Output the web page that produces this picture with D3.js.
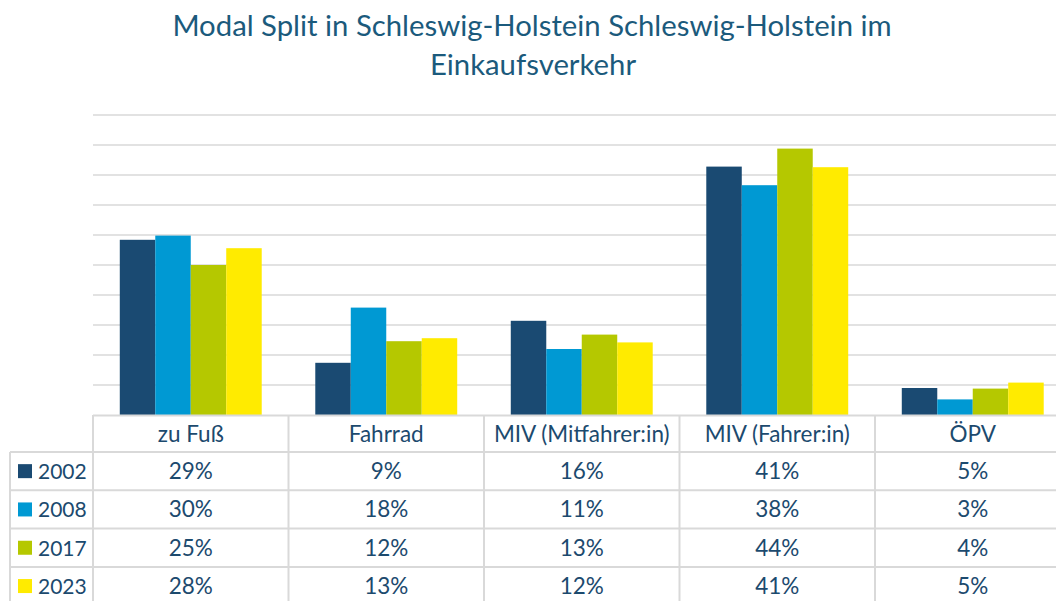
<!DOCTYPE html>
<html>
<head>
<meta charset="utf-8">
<script src="https://cdn.jsdelivr.net/npm/d3@7"></script>
<style>
  body { margin: 0; background: #fff; }
  svg { display: block; font-family: Lato, "Open Sans", sans-serif; }
</style>
</head>
<body>
<script>
// data
var categories = ["zu Fuß", "Fahrrad", "MIV (Mitfahrer:in)", "MIV (Fahrer:in)", "ÖPV"];
var years = ["2002", "2008", "2017", "2023"];
var values2002 = [29.2, 8.7, 15.7, 41.4, 4.5];
var values2008 = [29.9, 17.9, 11.0, 38.3, 2.6];
var values2017 = [25.0, 12.3, 13.4, 44.4, 4.4];
var values2023 = [27.8, 12.8, 12.1, 41.3, 5.4];
var yTicks = [5, 10, 15, 20, 25, 30, 35, 40, 45, 50];
var colors = ["#1a4a72", "#0099d3", "#b5c800", "#ffeb00"];

var series = [values2002, values2008, values2017, values2023];

var w = 1056;
var h = 601;
var left = 93;
var colW = 195.5;
var yBase = 415;
var headH = 37;
var rowH = 38.3;
var textColor = "#1c4a6e";
var gridColor = "#d9d9d9";
var fs = "22.5px";

var svg = d3.select("body").append("svg")
	.attr("width", w)
	.attr("height", h);

// title
svg.append("text")
	.attr("x", 532).attr("y", 36)
	.attr("text-anchor", "middle")
	.attr("font-size", "29.3px")
	.attr("fill", "#1b5a7c")
	.text("Modal Split in Schleswig-Holstein Schleswig-Holstein im");
svg.append("text")
	.attr("x", 533).attr("y", 75)
	.attr("text-anchor", "middle")
	.attr("font-size", "29.3px")
	.attr("fill", "#1b5a7c")
	.text("Einkaufsverkehr");

var x0 = d3.scaleBand()
	.domain(categories)
	.range([left, left + colW * categories.length])
	.paddingInner(0.274)
	.paddingOuter(0.137);

var x1 = d3.scaleBand()
	.domain(years)
	.range([0, x0.bandwidth()]);

var y = d3.scaleLinear()
	.domain([0, 50])
	.range([yBase, 115]);

// gridlines
svg.append("g")
	.selectAll("line")
	.data(yTicks)
	.enter()
	.append("line")
	.attr("x1", left).attr("x2", w)
	.attr("y1", function(d) { return y(d); })
	.attr("y2", function(d) { return y(d); })
	.attr("stroke", gridColor)
	.attr("stroke-width", 1.5);

// bars
var groups = svg.append("g")
	.selectAll("g")
	.data(series)
	.enter()
	.append("g")
	.attr("fill", function(d, i) { return colors[i]; });

groups.selectAll("rect")
	.data(function(d, i) {
		return d.map(function(v, j) { return { cat: categories[j], year: years[i], v: v }; });
	})
	.enter()
	.append("rect")
	.attr("x", function(d) { return x0(d.cat) + x1(d.year); })
	.attr("y", function(d) { return y(d.v); })
	.attr("width", x1.bandwidth())
	.attr("height", function(d) { return yBase - y(d.v); });

// data table
var table = svg.append("g");
var rowTops = years.map(function(d, i) { return yBase + headH + i * rowH; });

// horizontal lines
table.append("line")
	.attr("x1", left).attr("x2", w)
	.attr("y1", yBase + 0.5).attr("y2", yBase + 0.5)
	.attr("stroke", gridColor).attr("stroke-width", 2);
table.selectAll("line.row")
	.data(rowTops)
	.enter()
	.append("line")
	.attr("class", "row")
	.attr("x1", 10).attr("x2", w)
	.attr("y1", function(d) { return d; })
	.attr("y2", function(d) { return d; })
	.attr("stroke", gridColor).attr("stroke-width", 2);

// vertical lines
var vx = categories.map(function(c, i) { return left + i * colW; });
table.selectAll("line.col")
	.data(vx)
	.enter()
	.append("line")
	.attr("class", "col")
	.attr("x1", function(d) { return d; })
	.attr("x2", function(d) { return d; })
	.attr("y1", yBase).attr("y2", h)
	.attr("stroke", gridColor).attr("stroke-width", 2);
table.append("line")
	.attr("x1", 10).attr("x2", 10)
	.attr("y1", rowTops[0]).attr("y2", h)
	.attr("stroke", gridColor).attr("stroke-width", 2);

// header labels
table.selectAll("text.cat")
	.data(categories)
	.enter()
	.append("text")
	.attr("class", "cat")
	.attr("x", function(d) { return x0(d) + x0.bandwidth() / 2; })
	.attr("y", yBase + headH / 2 + 8)
	.attr("text-anchor", "middle")
	.attr("font-size", fs)
	.attr("fill", textColor)
	.text(function(d) { return d; });

// legend keys and year labels
table.selectAll("rect.key")
	.data(years)
	.enter()
	.append("rect")
	.attr("class", "key")
	.attr("x", 18)
	.attr("y", function(d, i) { return rowTops[i] + rowH / 2 - 7; })
	.attr("width", 14).attr("height", 14)
	.attr("fill", function(d, i) { return colors[i]; });

table.selectAll("text.year")
	.data(years)
	.enter()
	.append("text")
	.attr("class", "year")
	.attr("x", 38)
	.attr("y", function(d, i) { return rowTops[i] + rowH / 2 + 8; })
	.attr("font-size", "21px")
	.attr("fill", textColor)
	.text(function(d) { return d; });

// values
series.forEach(function(vals, i) {
	table.selectAll("text.v" + i)
		.data(vals)
		.enter()
		.append("text")
		.attr("class", "v" + i)
		.attr("x", function(d, j) { return x0(categories[j]) + x0.bandwidth() / 2; })
		.attr("y", rowTops[i] + rowH / 2 + 8)
		.attr("text-anchor", "middle")
		.attr("font-size", fs)
		.attr("fill", textColor)
		.text(function(d) { return Math.round(d) + "%"; });
});
</script>
</body>
</html>
